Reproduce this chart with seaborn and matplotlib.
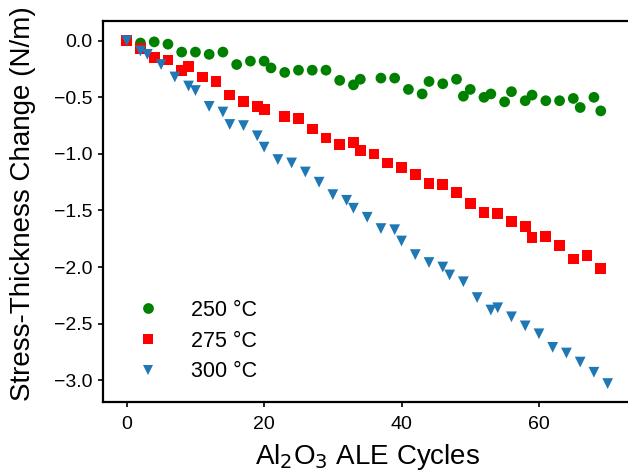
import numpy as np
import pandas as pd
import matplotlib
matplotlib.use("Agg")
import matplotlib.pyplot as plt
import seaborn as sns

# ALE cycle numbers and stress-thickness change (N/m)
cycles_250 = [0, 2, 4, 6, 8, 10, 12, 14, 16, 18, 20, 21, 23, 25, 27, 29, 31, 33, 34,
              37, 39, 41, 43, 44, 46, 48, 49, 50, 52, 53, 55, 56, 58, 59, 61, 63,
              65, 66, 68, 69]
stress_250 = [0.0, -0.02, -0.01, -0.03, -0.10, -0.10, -0.12, -0.10, -0.21, -0.18,
              -0.18, -0.24, -0.28, -0.26, -0.26, -0.26, -0.35, -0.39, -0.34, -0.33,
              -0.33, -0.43, -0.47, -0.36, -0.38, -0.34, -0.49, -0.43, -0.50, -0.47,
              -0.54, -0.45, -0.53, -0.48, -0.53, -0.53, -0.51, -0.59, -0.50, -0.62]

cycles_275 = [0, 2, 4, 6, 8, 9, 11, 13, 15, 17, 19, 20, 23, 25, 27, 29, 31, 33, 34,
              36, 38, 40, 42, 44, 46, 48, 50, 52, 54, 56, 58, 59, 61, 63, 65, 67, 69]
stress_275 = [0.0, -0.07, -0.15, -0.17, -0.26, -0.23, -0.32, -0.36, -0.48, -0.54,
              -0.58, -0.61, -0.67, -0.69, -0.78, -0.86, -0.92, -0.90, -0.97, -1.00,
              -1.08, -1.12, -1.18, -1.26, -1.27, -1.34, -1.44, -1.52, -1.53, -1.60,
              -1.64, -1.74, -1.73, -1.81, -1.93, -1.90, -2.01]

cycles_300 = [0, 2, 3, 5, 7, 9, 10, 12, 14, 15, 17, 19, 20, 22, 24, 26, 28, 30, 32,
              33, 35, 37, 39, 40, 42, 44, 46, 47, 49, 51, 53, 54, 56, 58, 60, 62,
              64, 66, 68, 70]
stress_300 = [0.0, -0.09, -0.12, -0.21, -0.32, -0.40, -0.44, -0.58, -0.63, -0.74,
              -0.75, -0.84, -0.94, -1.05, -1.08, -1.16, -1.25, -1.36, -1.41, -1.48,
              -1.56, -1.66, -1.67, -1.77, -1.89, -1.96, -2.00, -2.07, -2.13, -2.27,
              -2.38, -2.36, -2.44, -2.52, -2.59, -2.71, -2.76, -2.84, -2.93, -3.03]

temps = ["250 °C", "275 °C", "300 °C"]
colors = ["green", "red", "#1f77b4"]
markers = ["o", "s", "v"]

df = pd.concat([
    pd.DataFrame({"cycle": cycles_250, "stress": stress_250, "temp": temps[0]}),
    pd.DataFrame({"cycle": cycles_275, "stress": stress_275, "temp": temps[1]}),
    pd.DataFrame({"cycle": cycles_300, "stress": stress_300, "temp": temps[2]}),
], ignore_index=True)

sns.set_style("ticks")
plt.rcParams["font.family"] = ["Liberation Sans", "DejaVu Sans"]
plt.rcParams.update({
    "text.color": "black", "axes.labelcolor": "black",
    "xtick.color": "black", "ytick.color": "black",
})

fig = plt.figure(figsize=(6.28, 4.72), dpi=100)
# right spine sits just outside the cropped figure, as in the original
ax = fig.add_axes([0.1635, 0.149, 0.8424, 0.8066])

sns.scatterplot(
    data=df, x="cycle", y="stress", hue="temp", style="temp",
    hue_order=temps, style_order=temps,
    palette=dict(zip(temps, colors)), markers=dict(zip(temps, markers)),
    s=60, edgecolor="none", linewidth=0, ax=ax,
)

ax.set_ylim(-3.19, 0.175)
ax.set_xticks([0, 20, 40, 60])
ax.set_yticks(np.arange(-3.0, 0.01, 0.5))
ax.tick_params(labelsize=14, width=1.2, length=3.6, color="black")
ax.tick_params(axis="x", pad=7)
for sp in ax.spines.values():
    sp.set_linewidth(1.6)
    sp.set_color("black")

ax.set_xlabel(r"Al$_2$O$_3$ ALE Cycles", fontsize=20, labelpad=6.5)
ax.set_ylabel("Stress-Thickness Change (N/m)", fontsize=20)
ax.yaxis.set_label_coords(-0.126, 0.52)

ax.legend(loc="lower left", bbox_to_anchor=(0.0076, 0.0), frameon=False,
          fontsize=15.5, handletextpad=1.0, borderaxespad=0.5,
          labelspacing=0.45, title=None)

fig.savefig("out.png", dpi=100)
